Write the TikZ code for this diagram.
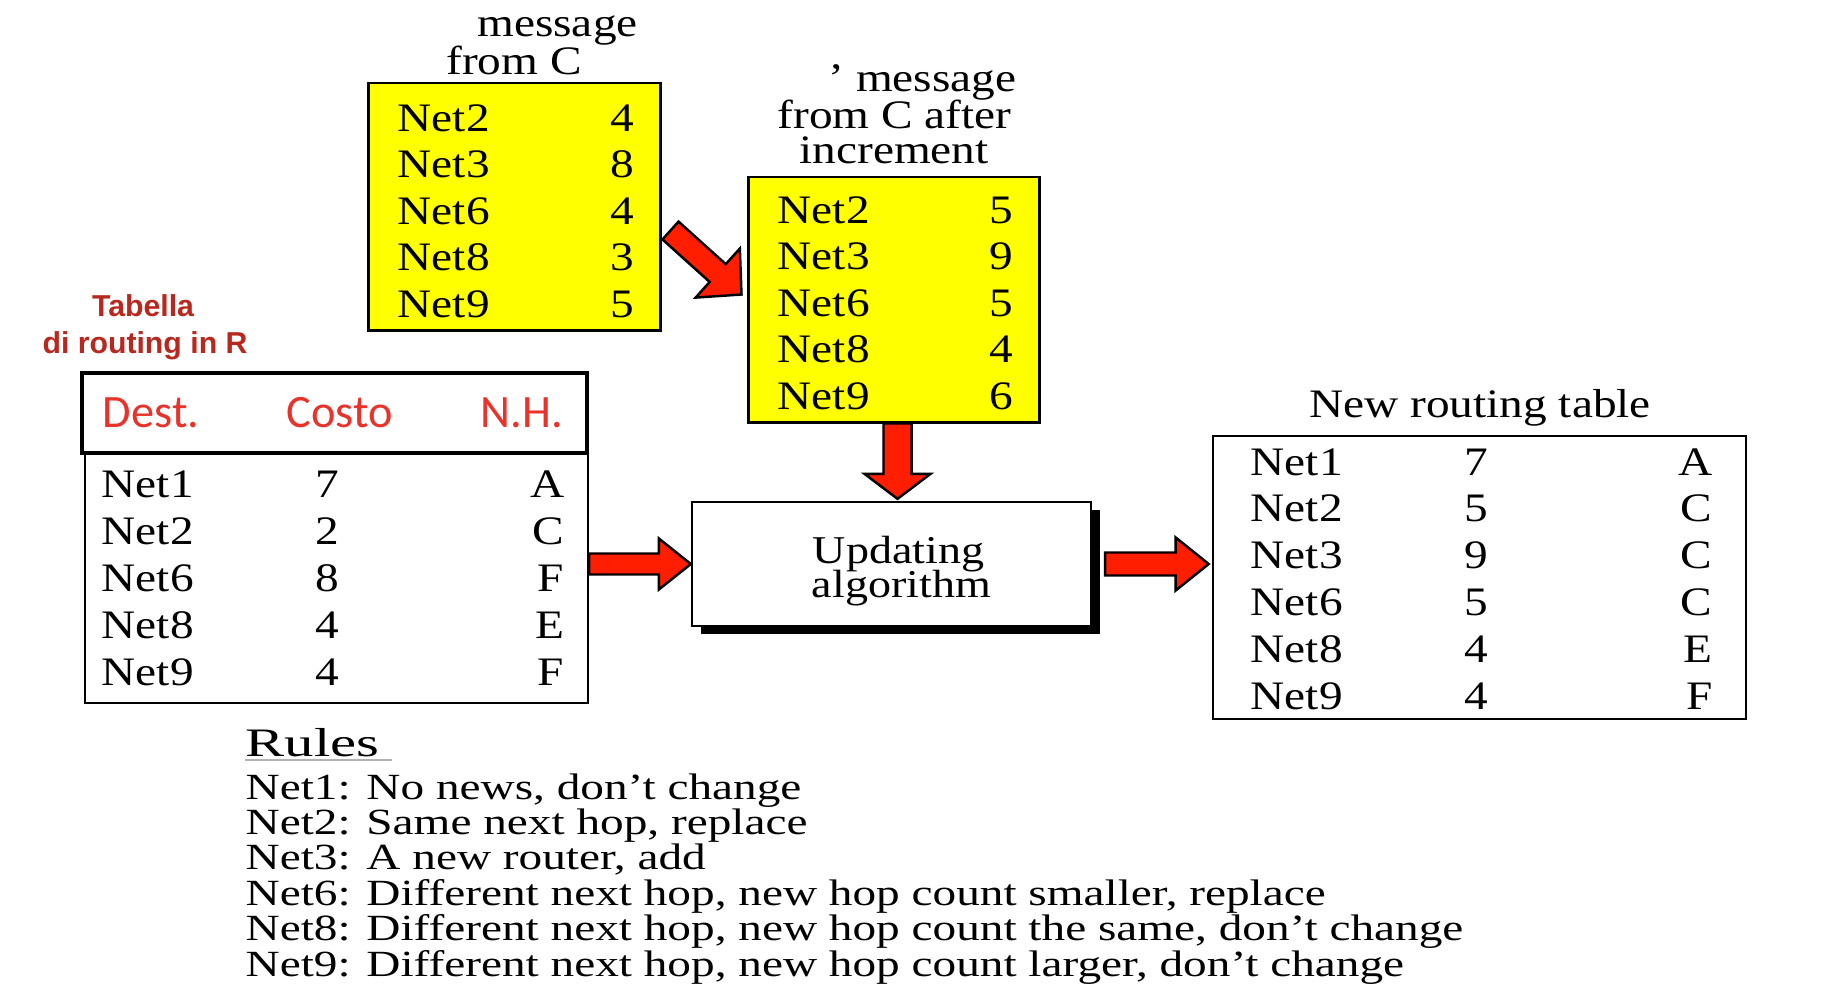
\documentclass[tikz,border=0pt]{standalone}
\usepackage{fontspec}
\setmainfont{Liberation Serif}
\newfontfamily\tabfont[FakeStretch=1.17]{Liberation Serif}
\newfontfamily\rulefont[FakeStretch=1.28]{Liberation Serif}
\newfontfamily\rulehead[FakeStretch=1.45]{Liberation Serif}
\newfontfamily\hdfont{Carlito}
\newfontfamily\capfont{Liberation Sans}
\usetikzlibrary{positioning, calc, fit, shadows}
\definecolor{msgyellow}{HTML}{FFFF00}
\definecolor{arrowred}{HTML}{FF1E00}
\definecolor{headred}{HTML}{E8332B}
\definecolor{capred}{HTML}{B8281F}

\tikzset{
  ybox/.style={draw=black, line width=0.85pt, fill=msgyellow, inner sep=0pt},
  tbox/.style={draw=black, line width=0.65pt, inner sep=0pt},
  cell/.style={inner sep=0pt, font=\tabfont\fontsize{11.5}{13.4}\selectfont},
  hcell/.style={inner sep=0pt, text=headred, font=\hdfont\fontsize{13.2}{15}\selectfont},
  capcell/.style={inner sep=0pt, anchor=base, text=capred, font=\capfont\bfseries\fontsize{8.6}{10}\selectfont},
  rule/.style={inner sep=0pt, anchor=base west, font=\rulefont\fontsize{10.5}{10}\selectfont},
  blockarrow/.style={fill=arrowred, draw=black, line width=0.7pt, line join=miter}
}

\newcommand{\fatarrow}[5]{%
  \coordinate (fa-h) at ($(#2)!#5!(#1)$);
  \draw[blockarrow] ($(#1)!#3!90:(#2)$) -- ($(fa-h)!#3!90:(#2)$) -- ($(fa-h)!#4!90:(#2)$) -- (#2)
    -- ($(fa-h)!#4!-90:(#2)$) -- ($(fa-h)!#3!-90:(#2)$) -- ($(#1)!#3!-90:(#2)$) -- cycle;
}

\begin{document}
\begin{tikzpicture}[x=0.01cm, y=-0.01cm]
  \useasboundingbox (0,0) rectangle (1840,1006);

  \node[ybox, fit={(368,83) (660,330)}] (msgC) {};
  \node[cell, anchor=base] (lblC1) at (557.5,36) {message};
  \node[cell, anchor=base] (lblC2) at (514,74) {from C};
  \foreach \net/\cost [count=\i from 0] in {Net2/4, Net3/8, Net6/4, Net8/3, Net9/5} {
    \node[cell, anchor=base west] (cN\i) at (397,{131+46.6*\i}) {\net};
    \node[cell, anchor=base east] (cV\i) at (635,{131+46.6*\i}) {\cost};
  }

  \node[ybox, fit={(748,177) (1039,422)}] (msgInc) {};
  \node[cell, anchor=base east] (lblI1) at (1017,91) {’ message};
  \node[cell, anchor=base] (lblI2) at (894.5,128) {from C after};
  \node[cell, anchor=base] (lblI3) at (894,163) {increment};
  \foreach \net/\cost [count=\i from 0] in {Net2/5, Net3/9, Net6/5, Net8/4, Net9/6} {
    \node[cell, anchor=base west] (iN\i) at (777,{223+46.5*\i}) {\net};
    \node[cell, anchor=base east] (iV\i) at (1014,{223+46.5*\i}) {\cost};
  }

  \node[capcell] (capT1) at (143,316) {Tabella};
  \node[capcell] (capT2) at (145,353) {di routing in R};
  \node[tbox, line width=1pt, fit={(82,373) (587,453)}] (rtHead) {};
  \node[tbox, fit={(85,453) (588,703)}] (rtBody) {};
  \node[hcell, anchor=base west] (hDest) at (102,427) {Dest.};
  \node[hcell, anchor=base] (hCost) at (340,427) {Costo};
  \node[hcell, anchor=base east] (hHop) at (564,427) {N.H.};
  \foreach \net/\cost/\hop [count=\i from 0] in {Net1/7/A, Net2/2/C, Net6/8/F, Net8/4/E, Net9/4/F} {
    \node[cell, anchor=base west] (rN\i) at (101,{497+47*\i}) {\net};
    \node[cell, anchor=base] (rV\i) at (327,{497+47*\i}) {\cost};
    \node[cell, anchor=base east] (rH\i) at (565,{497+47*\i}) {\hop};
  }

  \node[tbox, fill=white, drop shadow={shadow xshift=2.6pt, shadow yshift=-2.2pt, fill=black, opacity=1},
    fit={(692,502) (1091,626)}] (algo) {};
  \node[cell, anchor=base, font=\tabfont\fontsize{11.2}{13}\selectfont] (algoT1) at (898.5,563) {Updating};
  \node[cell, anchor=base, font=\tabfont\fontsize{11.2}{13}\selectfont] (algoT2) at (901.5,597) {algorithm};

  \node[cell, anchor=base] (newLbl) at (1480,417) {New routing table};
  \node[tbox, line width=0.75pt, fit={(1213,436) (1746,719)}] (newTab) {};
  \foreach \net/\cost/\hop [count=\i from 0] in {Net1/7/A, Net2/5/C, Net3/9/C, Net6/5/C, Net8/4/E, Net9/4/F} {
    \node[cell, anchor=base west] (nN\i) at (1250,{475+46.8*\i}) {\net};
    \node[cell, anchor=base] (nV\i) at (1476,{475+46.8*\i}) {\cost};
    \node[cell, anchor=base east] (nH\i) at (1713,{475+46.8*\i}) {\hop};
  }

  \coordinate (aTail1) at ($(msgC.east)+(9,24)$);
  \coordinate (aTip1) at ($(msgInc.west)+(-5,-5)$);
  \fatarrow{aTail1}{aTip1}{0.12cm}{0.33cm}{0.32cm}
  \coordinate (aTail2) at ($(msgInc.south)+(4,0)$);
  \coordinate (aTip2) at ($(aTail2 |- algo.north)+(0,-2)$);
  \fatarrow{aTail2}{aTip2}{0.14cm}{0.33cm}{0.25cm}
  \coordinate (aTail3) at (rtBody.east |- algo.west);
  \fatarrow{aTail3}{algo.west}{0.105cm}{0.255cm}{0.32cm}
  \coordinate (aTail4) at ($(algo.east)+(13,0)$);
  \coordinate (aTip4) at ($(newTab.west |- algo.east)+(-3,0)$);
  \fatarrow{aTail4}{aTip4}{0.115cm}{0.265cm}{0.33cm}

  \node[rule, font=\rulehead\fontsize{11.5}{12}\selectfont] (rulesHd) at (245,756) {Rules};
  \draw[black!30, line width=0.5pt] ($(rulesHd.base west)+(0,4)$) -- ++(147,0);
  \foreach \txt [count=\i from 0] in {{Net1: No news, don’t change}, {Net2: Same next hop, replace},
      {Net3: A new router, add}, {Net6: Different next hop, new hop count smaller, replace},
      {Net8: Different next hop, new hop count the same, don’t change},
      {Net9: Different next hop, new hop count larger, don’t change}} {
    \node[rule] (rule\i) at (245,{799+35.4*\i}) {\txt};
  }
\end{tikzpicture}
\end{document}
